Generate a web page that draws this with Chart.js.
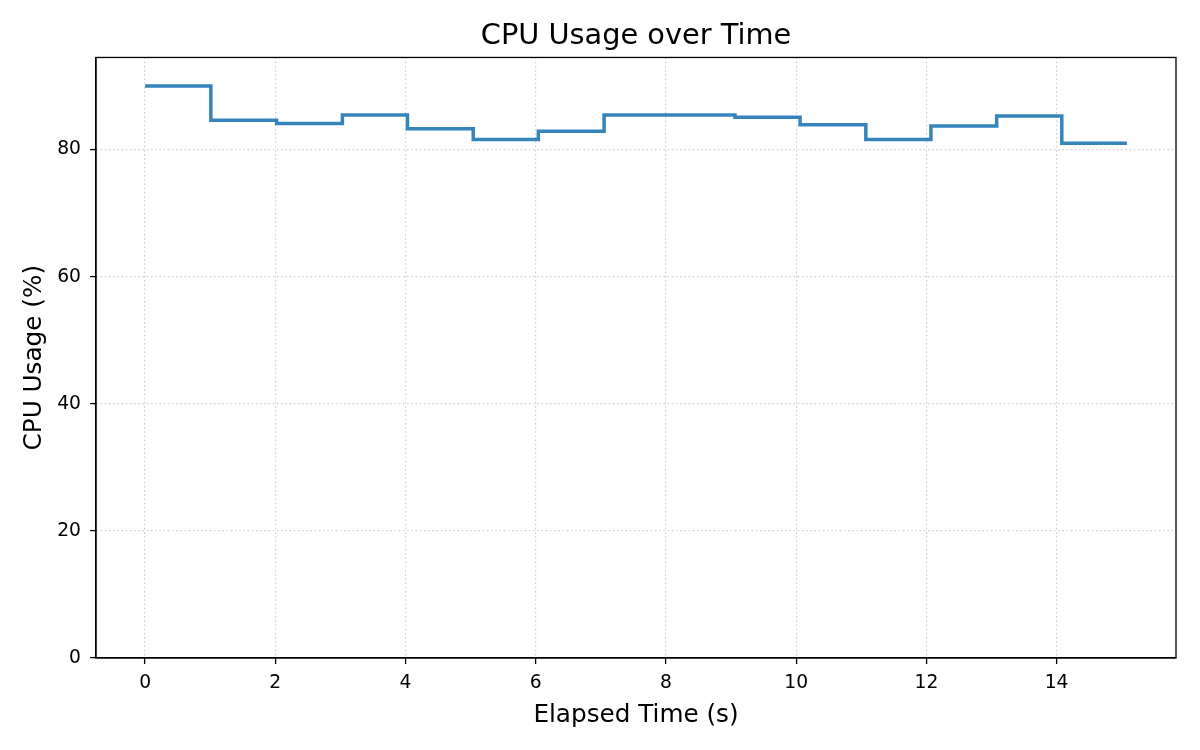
<!DOCTYPE html>
<html>
<head>
<meta charset="utf-8">
<script src="https://cdn.jsdelivr.net/npm/chart.js@4.4.1/dist/chart.umd.min.js"></script>
<style>
  html, body { margin: 0; padding: 0; background: #ffffff; }
  #wrap { width: 1200px; height: 750px; }
</style>
</head>
<body>
<div id="wrap"><canvas id="c" width="1200" height="750"></canvas></div>
<script>
// ---- data ----
const elapsedTime = [0, 1.01, 2.02, 3.03, 4.03, 5.04, 6.04, 7.05, 8.06, 9.06, 10.06, 11.07, 12.07, 13.08, 14.08, 15.08];
const cpuUsage   = [90.0, 84.6, 84.1, 85.45, 83.3, 81.6, 82.9, 85.45, 85.45, 85.1, 83.9, 81.6, 83.7, 85.3, 81.0, 81.0];
const xTicks = [0, 2, 4, 6, 8, 10, 12, 14];
const yTicks = [0, 20, 40, 60, 80];
const titleText = 'CPU Usage over Time';
const xLabel = 'Elapsed Time (s)';
const yLabel = 'CPU Usage (%)';
const seriesName = 'CPU Usage';

const points = elapsedTime.map((t, i) => ({ x: t, y: cpuUsage[i] }));

const FONT = 'DejaVu Sans';
const AXIS = '#000000';

const framePlugin = {
  id: 'frame',
  afterDraw(chart) {
    const { ctx, chartArea: a } = chart;
    ctx.save();
    ctx.strokeStyle = AXIS;
    ctx.lineWidth = 1.3;
    ctx.setLineDash([]);
    ctx.strokeRect(a.left, a.top, a.right - a.left, a.bottom - a.top);
    ctx.restore();
  }
};

const gridOpts = {
  color: 'rgba(176,176,176,0.6)',
  lineWidth: 1.2,
  drawTicks: true,
  tickLength: 6,
  tickColor: AXIS,
  tickWidth: 1.3,
  tickBorderDash: []
};
const borderOpts = { display: true, color: AXIS, width: 1.3, dash: [1.6, 2.6] };

new Chart(document.getElementById('c'), {
  type: 'line',
  data: {
    datasets: [{
      label: seriesName,
      data: points,
      stepped: 'before',
      borderColor: 'rgba(31,119,180,0.9)',
      borderWidth: 3.5,
      pointRadius: 0,
      fill: false,
      tension: 0
    }]
  },
  options: {
    responsive: false,
    animation: false,
    devicePixelRatio: 1,
    layout: { padding: { left: 0, right: 24, top: 0, bottom: 0 } },
    plugins: {
      legend: { display: false },
      tooltip: { enabled: false },
      title: {
        display: true,
        fullSize: false,
        text: titleText,
        color: '#000000',
        font: { family: FONT, size: 28.8, weight: 'normal', lineHeight: 1.2 },
        padding: { top: 19.5, bottom: 3.4 }
      }
    },
    scales: {
      x: {
        type: 'linear',
        min: -0.754,
        max: 15.834,
        afterFit(s) { s.height = 92; },
        afterBuildTicks(s) { s.ticks = xTicks.map(v => ({ value: v })); },
        ticks: {
          color: '#000000',
          font: { family: FONT, size: 18.7 },
          padding: 8.4,
          maxRotation: 0,
          autoSkip: false
        },
        grid: gridOpts,
        border: borderOpts,
        title: {
          display: true,
          text: xLabel,
          color: '#000000',
          font: { family: FONT, size: 24.7, lineHeight: 1.2 },
          padding: { top: 0, bottom: 20 }
        }
      },
      y: {
        type: 'linear',
        min: 0,
        max: 94.5,
        afterFit(s) { s.width = 96; },
        afterBuildTicks(s) { s.ticks = yTicks.map(v => ({ value: v })); },
        ticks: {
          color: '#000000',
          font: { family: FONT, size: 18.7 },
          padding: 9
        },
        grid: gridOpts,
        border: borderOpts,
        title: {
          display: true,
          text: yLabel,
          color: '#000000',
          font: { family: FONT, size: 24.7, lineHeight: 1.2 },
          padding: { top: 19.5, bottom: 0 }
        }
      }
    }
  },
  plugins: [framePlugin]
});
</script>
</body>
</html>
